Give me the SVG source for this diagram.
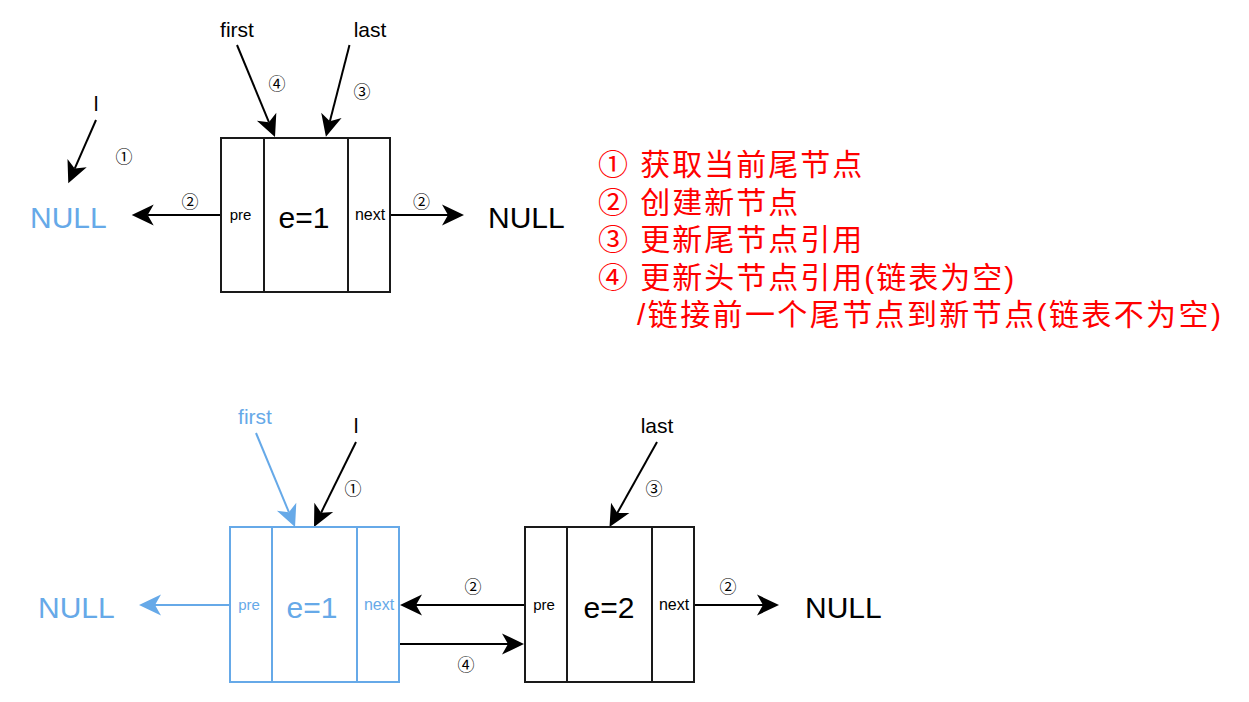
<svg xmlns="http://www.w3.org/2000/svg" width="1249" height="702" viewBox="0 0 1249 702">
<style>
.box{fill:none;stroke:#1a1a1a;stroke-width:2}
.bbox{fill:none;stroke:#66A9E8;stroke-width:2}
.ln{stroke:#000;stroke-width:2;fill:none}
.bln{stroke:#66A9E8;stroke-width:2;fill:none}
.t{font-family:"Liberation Sans",Arial,sans-serif;fill:#000}
.b{fill:#66A9E8}
.c{font-family:"Noto Sans CJK SC",sans-serif;font-size:17px;text-anchor:middle;fill:#000}
.r{font-family:"Liberation Sans","Noto Sans CJK SC",sans-serif;font-size:30px;letter-spacing:2px;fill:#FF0000}
.m{text-anchor:middle}
</style>
<defs>
<marker id="ah" markerUnits="userSpaceOnUse" markerWidth="40" markerHeight="40" refX="0" refY="0" orient="auto" overflow="visible"><path d="M16,0 L-6,-10.5 L0,0 L-6,10.5 Z" fill="#000"/></marker>
<marker id="ahb" markerUnits="userSpaceOnUse" markerWidth="40" markerHeight="40" refX="0" refY="0" orient="auto" overflow="visible"><path d="M16,0 L-6,-10.5 L0,0 L-6,10.5 Z" fill="#66A9E8"/></marker>
</defs>

<g id="connectors">
<line class="ln" x1="237" y1="45" x2="268.9" y2="122.2" marker-end="url(#ah)"/>
<line class="ln" x1="349.5" y1="45" x2="329.9" y2="121.2" marker-end="url(#ah)"/>
<line class="ln" x1="96" y1="120" x2="74.7" y2="168.6" marker-end="url(#ah)"/>
<line class="ln" x1="221" y1="215" x2="147.7" y2="215" marker-end="url(#ah)"/>
<line class="ln" x1="390" y1="215" x2="448" y2="215" marker-end="url(#ah)"/>

<line class="bln" x1="256" y1="433" x2="288.9" y2="512.2" marker-end="url(#ahb)"/>
<line class="ln" x1="356" y1="442" x2="321.1" y2="512.7" marker-end="url(#ah)"/>
<line class="ln" x1="657" y1="442" x2="617.3" y2="513" marker-end="url(#ah)"/>
<line class="bln" x1="230" y1="605" x2="155" y2="605" marker-end="url(#ahb)"/>
<line class="ln" x1="524" y1="605" x2="416" y2="605" marker-end="url(#ah)"/>
<line class="ln" x1="400" y1="644" x2="508" y2="644" marker-end="url(#ah)"/>
<line class="ln" x1="694" y1="605" x2="763" y2="605" marker-end="url(#ah)"/>
</g>

<g id="labels-top">
<text class="t m" x="237" y="37" font-size="21">first</text>
<text class="t m" x="370" y="37" font-size="21">last</text>
<text class="t m" x="96" y="111" font-size="21">l</text>
<text class="c" x="277" y="90">④</text>
<text class="c" x="362" y="98">③</text>
<text class="c" x="124" y="163">①</text>
<text class="c" x="190" y="208">②</text>
<text class="c" x="421.5" y="208">②</text>
</g>

<g id="null-top-left"><text class="t b" x="30" y="228" font-size="30">NULL</text></g>
<g id="null-top-right"><text class="t" x="488" y="228" font-size="30">NULL</text></g>

<g id="node-top">
<rect class="box" x="221" y="138" width="169" height="154"/>
<line class="box" x1="264" y1="138" x2="264" y2="292"/>
<line class="box" x1="348" y1="138" x2="348" y2="292"/>
<text class="t m" x="240.5" y="220" font-size="15">pre</text>
<text class="t m" x="304" y="228" font-size="30">e=1</text>
<text class="t m" x="370" y="220" font-size="16">next</text>
</g>

<g id="legend">
<text class="r" x="598" y="175">① 获取当前尾节点</text>
<text class="r" x="598" y="212.5">② 创建新节点</text>
<text class="r" x="598" y="250">③ 更新尾节点引用</text>
<text class="r" x="598" y="287.5">④ 更新头节点引用(链表为空)</text>
<text class="r" x="637" y="325" style="letter-spacing:2.4px">/链接前一个尾节点到新节点(链表不为空)</text>
</g>

<g id="labels-bottom">
<text class="t b m" x="255" y="424" font-size="21">first</text>
<text class="t m" x="356" y="433" font-size="21">l</text>
<text class="t m" x="657" y="433" font-size="21">last</text>
<text class="c" x="353" y="495">①</text>
<text class="c" x="654" y="495">③</text>
<text class="c" x="473" y="593">②</text>
<text class="c" x="728" y="593">②</text>
<text class="c" x="466" y="671">④</text>
</g>

<g id="null-bottom-left"><text class="t b" x="38" y="618" font-size="30">NULL</text></g>
<g id="null-bottom-right"><text class="t" x="805" y="618" font-size="30">NULL</text></g>

<g id="node-e1">
<rect class="bbox" x="230" y="527" width="169" height="155"/>
<line class="bbox" x1="272" y1="527" x2="272" y2="682"/>
<line class="bbox" x1="357" y1="527" x2="357" y2="682"/>
<text class="t b m" x="249" y="610" font-size="15">pre</text>
<text class="t b m" x="312" y="618" font-size="30">e=1</text>
<text class="t b m" x="379" y="610" font-size="16">next</text>
</g>

<g id="node-e2">
<rect class="box" x="525" y="527" width="169" height="155"/>
<line class="box" x1="567" y1="527" x2="567" y2="682"/>
<line class="box" x1="652" y1="527" x2="652" y2="682"/>
<text class="t m" x="544" y="610" font-size="15">pre</text>
<text class="t m" x="609" y="618" font-size="30">e=2</text>
<text class="t m" x="674" y="610" font-size="16">next</text>
</g>
</svg>
